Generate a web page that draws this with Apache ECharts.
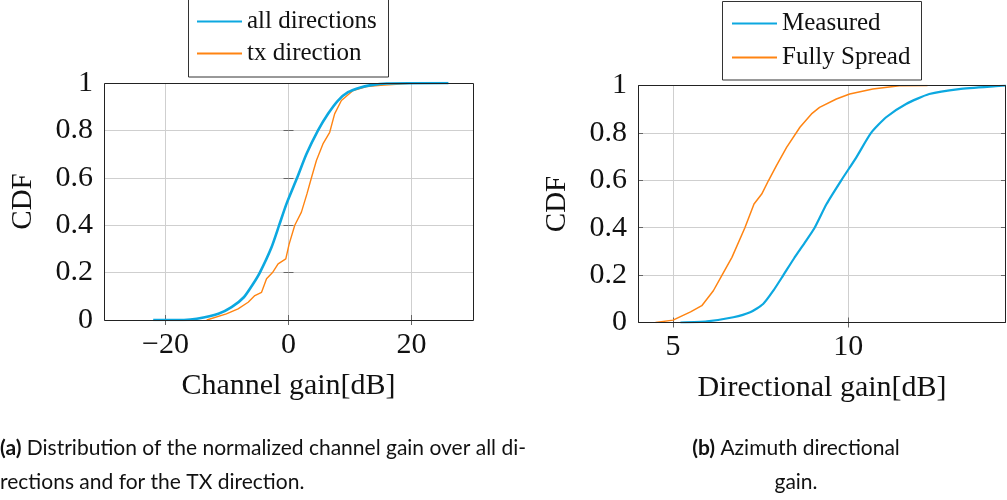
<!DOCTYPE html>
<html>
<head>
<meta charset="utf-8">
<script src="https://cdn.jsdelivr.net/npm/echarts@6/dist/echarts.min.js"></script>
<style>
html,body{margin:0;padding:0;background:#fff;}
#c{width:1007px;height:500px;}
</style>
</head>
<body>
<div id="c"></div>
<script>
// ---- data ----
const leftAllX = [-22, -17, -14.9, -11.4, -9.26, -7.26, -5.74, -4.66, -2.76, -1.52, -0.33, 1.4, 2.92, 4.8, 6.43, 8.05, 9.68, 11.57, 13.2, 16, 26];
const leftAllY = [0, 0, 0.005, 0.026, 0.054, 0.096, 0.153, 0.2, 0.307, 0.4, 0.49, 0.6, 0.70, 0.8, 0.87, 0.926, 0.961, 0.98, 0.99, 0.998, 1.0];
const leftTxX = [-13.3, -10.1, -8.2, -6.56, -5.47, -4.38, -3.57, -2.6, -1.69, -0.44, 0.1, 1.02, 2.1, 3.0, 3.73, 4.54, 5.6, 6.7, 7.5, 8.6, 10.5, 12.7, 15, 17.5, 20.2];
const leftTxY = [0, 0.026, 0.047, 0.075, 0.103, 0.117, 0.174, 0.2, 0.237, 0.258, 0.32, 0.4, 0.455, 0.532, 0.6, 0.673, 0.743, 0.792, 0.87, 0.926, 0.968, 0.985, 0.99, 0.994, 1.0];
const rightMeasX = [5.21, 5.97, 6.72, 7.2, 7.57, 7.86, 8.14, 8.45, 8.75, 9.04, 9.38, 9.8, 10.23, 10.65, 11.08, 11.65, 12.31, 13.16, 14.3, 14.5];
const rightMeasY = [0, 0.005, 0.022, 0.043, 0.078, 0.134, 0.198, 0.27, 0.335, 0.40, 0.50, 0.60, 0.697, 0.80, 0.866, 0.922, 0.964, 0.985, 0.998, 1.0];
const rightSpreadX = [4.5, 5.0, 5.21, 5.5, 5.82, 6.15, 6.39, 6.68, 7.05, 7.31, 7.53, 7.72, 7.95, 8.24, 8.62, 8.95, 9.18, 9.66, 10.04, 10.7, 11.46, 12.26];
const rightSpreadY = [0, 0.01, 0.025, 0.045, 0.071, 0.134, 0.198, 0.275, 0.40, 0.50, 0.542, 0.598, 0.662, 0.739, 0.824, 0.88, 0.908, 0.943, 0.964, 0.985, 0.999, 1.0];
const leftXTicks = [-20, 0, 20];
const rightXTicks = [5, 10];
const seriesNamesLeft = ['all directions', 'tx direction'];
const seriesNamesRight = ['Measured', 'Fully Spread'];
const xNameLeft = 'Channel gain[dB]';
const xNameRight = 'Directional gain[dB]';
const yName = 'CDF';
const captionA1 = 'Distribution of the normalized channel gain over all di-';
const captionA2 = 'rections and for the TX direction.';
const captionB1 = 'Azimuth directional';
const captionB2 = 'gain.';

const pairs = (xs, ys) => xs.map((x, i) => [x, ys[i]]);

const BLUE = '#0CA8E0';
const ORANGE = '#FF8412';
const SERIF = 'Liberation Serif';
const GRIDC = '#cfcfcf';
const TICKC = '#666';

function xAxisMain(gi, min, max, ticks, name) {
  return {
    type: 'value', gridIndex: gi, min: min, max: max, position: 'bottom',
    name: name, nameLocation: 'middle', nameGap: 51,
    nameTextStyle: {fontFamily: SERIF, fontSize: 30, color: '#111'},
    axisLine: {show: false},
    axisTick: {show: true, inside: true, length: 5, customValues: ticks, lineStyle: {color: TICKC}},
    axisLabel: {show: true, customValues: ticks, margin: 10, fontFamily: SERIF, fontSize: 30, color: '#111',
      formatter: v => String(v).replace('-', '\u2212')},
    splitLine: {show: true, customValues: ticks, lineStyle: {color: GRIDC, width: 1}}
  };
}
function xAxisTop(gi, min, max, ticks) {
  return {
    type: 'value', gridIndex: gi, min: min, max: max, position: 'top',
    axisLine: {show: false},
    axisTick: {show: true, inside: true, length: 5, customValues: ticks, lineStyle: {color: TICKC}},
    axisLabel: {show: false}, splitLine: {show: false}
  };
}
function yAxisMain(gi) {
  return {
    type: 'value', gridIndex: gi, min: 0, max: 1, interval: 0.2, position: 'left',
    name: yName, nameLocation: 'middle', nameGap: 66, nameRotate: 90,
    nameTextStyle: {fontFamily: SERIF, fontSize: 29, color: '#111'},
    axisLine: {show: false},
    axisTick: {show: true, inside: true, length: 5, lineStyle: {color: TICKC}},
    axisLabel: {margin: 11, fontFamily: SERIF, fontSize: 30, color: '#111'},
    splitLine: {show: true, lineStyle: {color: GRIDC, width: 1}}
  };
}
function yAxisRight(gi) {
  return {
    type: 'value', gridIndex: gi, min: 0, max: 1, interval: 0.2, position: 'right',
    axisLine: {show: false},
    axisTick: {show: true, inside: true, length: 5, lineStyle: {color: TICKC}},
    axisLabel: {show: false}, splitLine: {show: false}
  };
}

const G0 = {left: 104, top: 83, width: 369, height: 237};
const G1 = {left: 638, top: 85.5, width: 368, height: 237};

const chart = echarts.init(document.getElementById('c'), null, {renderer: 'canvas'});
const option = {
  animation: false,
  backgroundColor: '#fff',
  grid: [
    Object.assign({show: false}, G0),
    Object.assign({show: false}, G1)
  ],
  xAxis: [
    xAxisMain(0, -30, 30, leftXTicks, xNameLeft),
    xAxisMain(1, 4, 14.5, rightXTicks, xNameRight),
    xAxisTop(0, -30, 30, leftXTicks),
    xAxisTop(1, 4, 14.5, rightXTicks)
  ],
  yAxis: [yAxisMain(0), yAxisMain(1), yAxisRight(0), yAxisRight(1)],
  legend: [
    {data: seriesNamesLeft, orient: 'vertical', left: 197, top: 9, itemWidth: 45, itemHeight: 2, itemGap: 7, icon: 'rect',
     textStyle: {fontFamily: SERIF, fontSize: 25, color: '#111'}, padding: 0, selectedMode: false},
    {data: seriesNamesRight, orient: 'vertical', left: 732, top: 11, itemWidth: 45, itemHeight: 2, itemGap: 9, icon: 'rect',
     textStyle: {fontFamily: SERIF, fontSize: 25, color: '#111'}, padding: 0, selectedMode: false}
  ],
  series: [
    {name: seriesNamesLeft[0], type: 'line', xAxisIndex: 0, yAxisIndex: 0, data: pairs(leftAllX, leftAllY),
     showSymbol: false, smooth: 0.2, lineStyle: {color: BLUE, width: 2.6, join: 'round'}, itemStyle: {color: BLUE}, z: 3},
    {name: seriesNamesLeft[1], type: 'line', xAxisIndex: 0, yAxisIndex: 0, data: pairs(leftTxX, leftTxY),
     showSymbol: false, lineStyle: {color: ORANGE, width: 1.4}, itemStyle: {color: ORANGE}, z: 2},
    {name: seriesNamesRight[0], type: 'line', xAxisIndex: 1, yAxisIndex: 1, data: pairs(rightMeasX, rightMeasY),
     showSymbol: false, smooth: 0.2, lineStyle: {color: BLUE, width: 2.2, join: 'round'}, itemStyle: {color: BLUE}, z: 3},
    {name: seriesNamesRight[1], type: 'line', xAxisIndex: 1, yAxisIndex: 1, data: pairs(rightSpreadX, rightSpreadY),
     showSymbol: false, lineStyle: {color: ORANGE, width: 1.5}, itemStyle: {color: ORANGE}, z: 2}
  ],
  graphic: [
    {type: 'rect', z: 100, shape: {x: G0.left + 0.5, y: G0.top + 0.5, width: G0.width, height: G0.height}, style: {fill: 'none', stroke: '#222', lineWidth: 1}, silent: true},
    {type: 'rect', z: 100, shape: {x: G1.left + 0.5, y: G1.top, width: G1.width - 1, height: G1.height}, style: {fill: 'none', stroke: '#222', lineWidth: 1}, silent: true},
    {type: 'rect', shape: {x: 188.5, y: -5, width: 200, height: 82}, style: {fill: 'none', stroke: '#333', lineWidth: 1}, silent: true},
    {type: 'rect', shape: {x: 722.5, y: 1.5, width: 199, height: 78.5}, style: {fill: 'none', stroke: '#333', lineWidth: 1}, silent: true},
    {type: 'text', left: 0, top: 431, style: {
      text: '{b|(a)} ' + captionA1 + '\n' + captionA2,
      font: '21px Lato', fill: '#111', lineHeight: 34,
      rich: {b: {fontFamily: 'Lato', fontWeight: 'bold', fontSize: 21, fill: '#111'}}
    }},
    {type: 'text', x: 796, y: 431, style: {
      text: '{b|(b)} ' + captionB1 + '\n' + captionB2,
      font: '21px Lato', fill: '#111', lineHeight: 34, align: 'center',
      rich: {b: {fontFamily: 'Lato', fontWeight: 'bold', fontSize: 21, fill: '#111'}}
    }}
  ]
};
chart.setOption(option);
</script>
</body>
</html>
